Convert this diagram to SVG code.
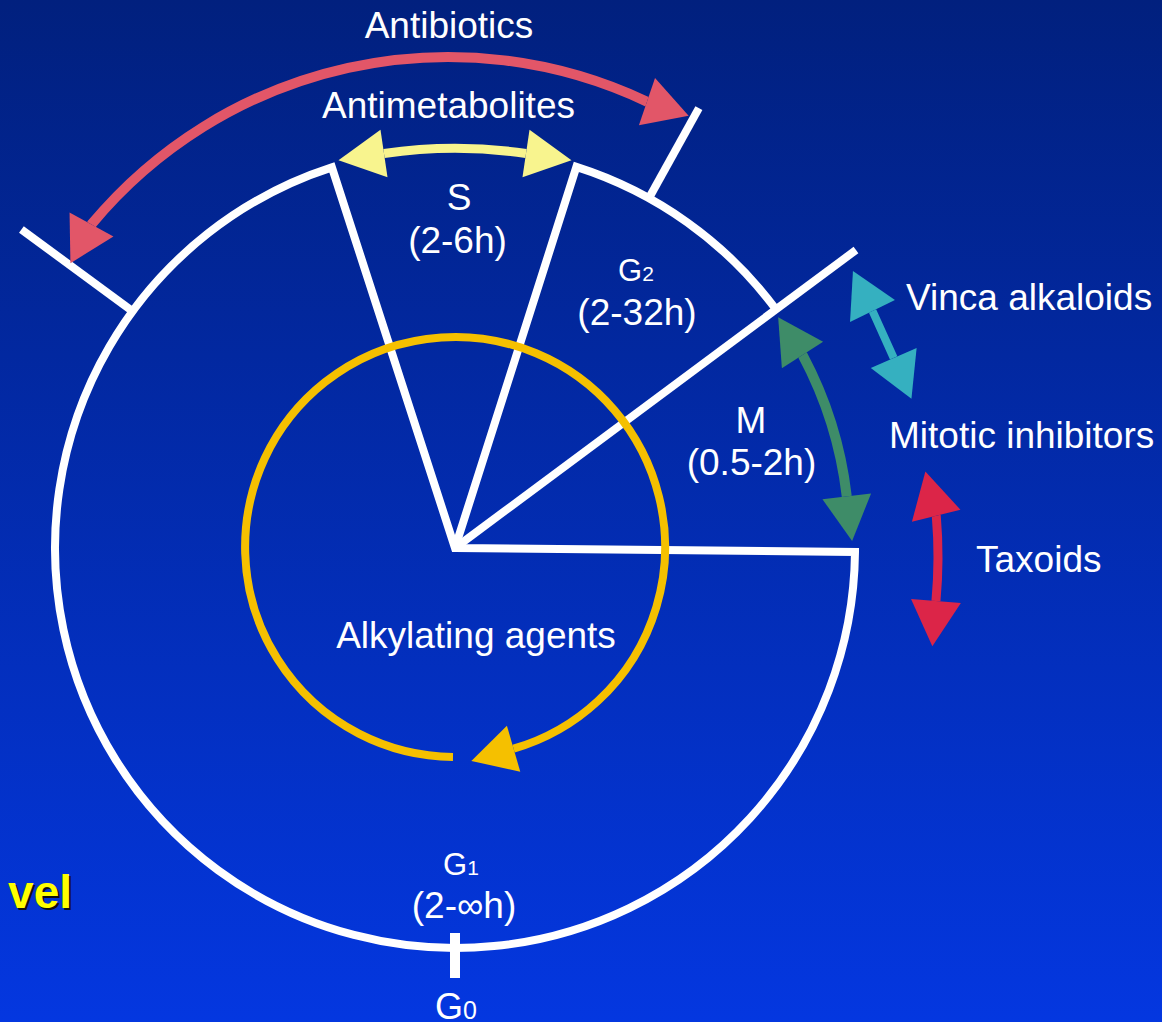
<svg xmlns="http://www.w3.org/2000/svg" width="1162" height="1022" viewBox="0 0 1162 1022">
  <defs>
    <linearGradient id="bg" x1="0" y1="0" x2="0" y2="1">
      <stop offset="0" stop-color="#01207E"/>
      <stop offset="1" stop-color="#0437E0"/>
    </linearGradient>
    <marker id="mRed" markerUnits="userSpaceOnUse" viewBox="0 -26 46 52" markerWidth="46" markerHeight="52" refX="0" refY="0" orient="auto-start-reverse" overflow="visible">
      <path d="M0,-25 L44,0 L0,25 Z" fill="#E25668"/>
    </marker>
    <marker id="mPale" markerUnits="userSpaceOnUse" viewBox="0 -26 48 52" markerWidth="48" markerHeight="52" refX="0" refY="0" orient="auto-start-reverse" overflow="visible">
      <path d="M0,-24 L46,0 L0,24 Z" fill="#F8F48E"/>
    </marker>
    <marker id="mGold" markerUnits="userSpaceOnUse" viewBox="0 -26 46 52" markerWidth="46" markerHeight="52" refX="0" refY="0" orient="auto-start-reverse" overflow="visible">
      <path d="M0,-24 L44,0 L0,24 Z" fill="#F5C000"/>
    </marker>
    <marker id="mGreen" markerUnits="userSpaceOnUse" viewBox="0 -26 47 52" markerWidth="47" markerHeight="52" refX="0" refY="0" orient="auto-start-reverse" overflow="visible">
      <path d="M0,-24.5 L45,0 L0,24.5 Z" fill="#3E8C68"/>
    </marker>
    <marker id="mCyan" markerUnits="userSpaceOnUse" viewBox="0 -26 47 52" markerWidth="47" markerHeight="52" refX="0" refY="0" orient="auto-start-reverse" overflow="visible">
      <path d="M0,-25 L44.5,0 L0,25 Z" fill="#35B0C0"/>
    </marker>
    <marker id="mCrimson" markerUnits="userSpaceOnUse" viewBox="0 -26 47 52" markerWidth="47" markerHeight="52" refX="0" refY="0" orient="auto-start-reverse" overflow="visible">
      <path d="M0,-25 L45.5,0 L0,25 Z" fill="#DC2548"/>
    </marker>
  </defs>
  <style>
    .w { fill: none; stroke: #FFFFFF; stroke-width: 8; stroke-linejoin: miter; }
    .lbl { font-family: "Liberation Sans", Arial, Helvetica, sans-serif; font-size: 37px; fill: #FFFFFF; }
    .mid { text-anchor: middle; }
    .arr { fill: none; stroke-linecap: butt; stroke-linejoin: round; }
    .lvl { font-family: "Liberation Sans", Arial, Helvetica, sans-serif; font-weight: bold; font-size: 46px; text-anchor: end; }
  </style>

  <rect id="background" x="0" y="0" width="1162" height="1022" fill="url(#bg)"/>

  <g id="cycle">
    <path id="g1-sector" class="w" d="M455,548 L855,552 A400,400 0 1 1 331.9,167.4 Z"/>
    <path id="g2-sector" class="w" d="M455,548 L576.4,166.9 A400,400 0 0 1 776,309.4"/>
    <path id="m-boundary" class="w" d="M455,548 L856,250"/>
    <path id="tick-left" class="w" d="M132.6,311.2 L21.4,229.5"/>
    <path id="tick-right" class="w" d="M648.9,198.2 L698.9,108.1"/>
    <path id="tick-g0" class="w" style="stroke-width:10" d="M455,933 L455,978"/>
  </g>

  <g id="connectors">
    <path id="arrow-antibiotics" class="arr" stroke="#E25668" stroke-width="10" marker-start="url(#mRed)" marker-end="url(#mRed)" d="M91.5,224.5 l0.24,-0.44 A463.7,463.7 0 0 1 646.5,101.5 l0.47,0.16"/>
    <path id="arrow-antimetabolites" class="arr" stroke="#F8F48E" stroke-width="9" marker-start="url(#mPale)" marker-end="url(#mPale)" d="M384,153.5 Q455,143 526,153.5"/>
    <path id="arrow-alkylating" class="arr" stroke="#F5C000" stroke-width="8" marker-end="url(#mGold)" d="M453,757 A210,210 0 1 1 513.6,748.7"/>
    <path id="arrow-mitotic" class="arr" stroke="#3E8C68" stroke-width="10" marker-start="url(#mGreen)" marker-end="url(#mGreen)" d="M802.5,355 l0.27,0.42 A397,397 0 0 1 846.7,495.8 l0.06,0.5"/>
    <path id="arrow-vinca" class="arr" stroke="#35B0C0" stroke-width="8" marker-start="url(#mCyan)" marker-end="url(#mCyan)" d="M872.5,311 l0.22,0.45 L893.5,357.5 l0.2,0.46"/>
    <path id="arrow-taxoids" class="arr" stroke="#DC2548" stroke-width="9" marker-start="url(#mCrimson)" marker-end="url(#mCrimson)" d="M936.2,515.8 l0.12,0.49 A483,483 0 0 1 936,600.5 l-0.04,0.5"/>
  </g>

  <g id="label-antibiotics"><text class="lbl mid" x="449" y="38">Antibiotics</text></g>
  <g id="label-antimetabolites"><text class="lbl mid" x="448.5" y="118">Antimetabolites</text></g>
  <g id="node-s">
    <text class="lbl mid" x="459" y="210">S</text>
    <text class="lbl mid" x="457.5" y="253">(2-6h)</text>
  </g>
  <g id="node-g2">
    <text class="lbl" x="618" y="281"><tspan font-size="31">G</tspan><tspan font-size="21">2</tspan></text>
    <text class="lbl mid" x="637" y="325">(2-32h)</text>
  </g>
  <g id="node-m">
    <text class="lbl mid" x="751" y="433">M</text>
    <text class="lbl mid" x="751.5" y="475">(0.5-2h)</text>
  </g>
  <g id="label-alkylating"><text class="lbl mid" x="476" y="648">Alkylating agents</text></g>
  <g id="node-g1">
    <text class="lbl" x="443" y="875"><tspan font-size="31">G</tspan><tspan font-size="21">1</tspan></text>
    <text class="lbl mid" x="464" y="918">(2-∞h)</text>
  </g>
  <g id="node-g0">
    <text class="lbl" x="435" y="1019"><tspan font-size="36">G</tspan><tspan font-size="25">0</tspan></text>
  </g>
  <g id="label-vinca"><text class="lbl" x="906" y="310">Vinca alkaloids</text></g>
  <g id="label-mitotic"><text class="lbl" x="889" y="448">Mitotic inhibitors</text></g>
  <g id="label-taxoids"><text class="lbl" x="976" y="572">Taxoids</text></g>
  <g id="label-level">
    <text class="lvl" x="74" y="910" fill="#101010">vel</text>
    <text class="lvl" x="72" y="908" fill="#FFFF00">vel</text>
  </g>
</svg>
